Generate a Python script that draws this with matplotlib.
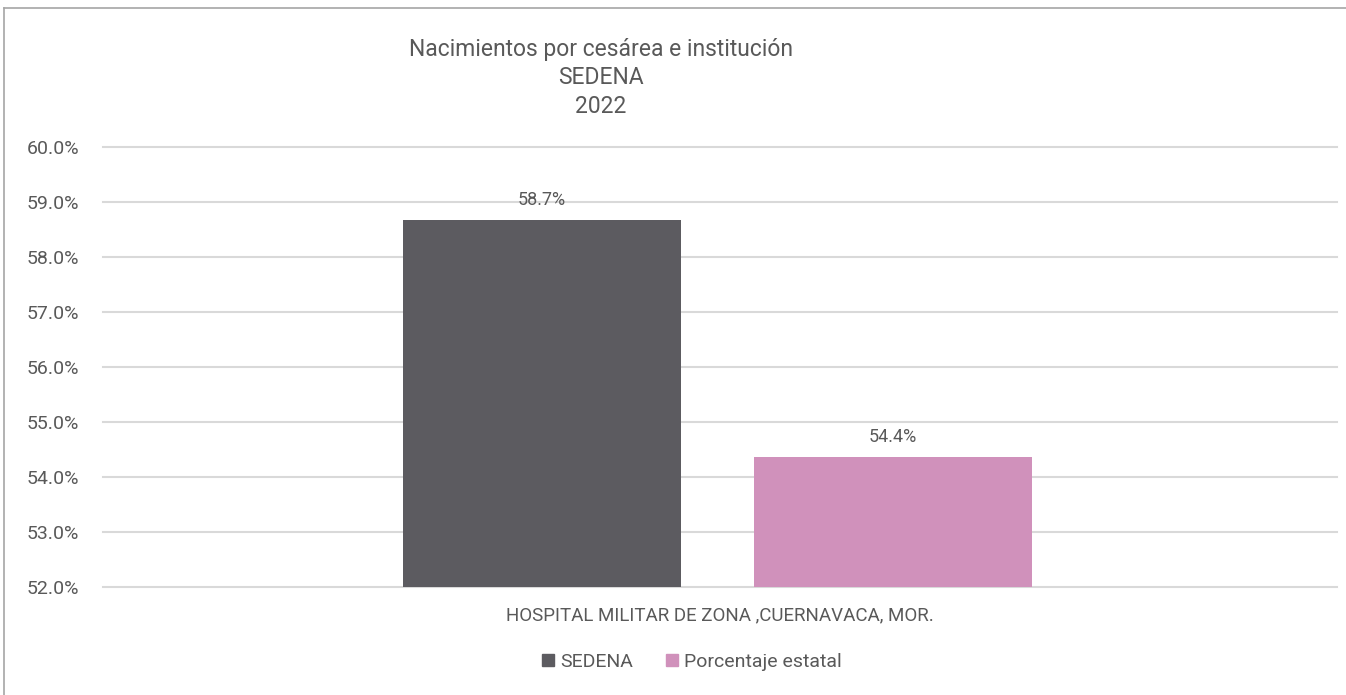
import matplotlib.pyplot as plt
from matplotlib.lines import Line2D
from matplotlib.ticker import FuncFormatter

plt.rcParams['font.family'] = ['Roboto', 'DejaVu Sans']

# Datos
categoria = "HOSPITAL MILITAR DE ZONA ,CUERNAVACA, MOR."
series = ["SEDENA", "Porcentaje estatal"]
valores = [58.67, 54.37]
colores = ["#5c5b60", "#d091bb"]

gris = "#595959"

W, H = 1346, 695
fig = plt.figure(figsize=(W / 100, H / 100), dpi=100)
ax = fig.add_axes([103 / W, 1 - 587 / H, (1337 - 103) / W, (587 - 147) / H])

posiciones = [-0.1442, 0.1402]
ancho = 0.2253
barras = ax.bar(posiciones, [v - 52 for v in valores], bottom=52, width=ancho,
                color=colores, zorder=3)
for x, v in zip(posiciones, valores):
    ax.text(x, v + 0.2, f"{v:.1f}%", ha='center', va='bottom', fontsize=13, color=gris)

ax.set_xlim(-0.5, 0.5)
ax.set_ylim(52, 60)
ax.set_yticks(range(52, 61))
ax.yaxis.set_major_formatter(FuncFormatter(lambda y, _: f"{y:.1f}%"))
ax.grid(axis='y', color='#d9d9d9', linewidth=1.5, zorder=0)
for g in ax.get_ygridlines():
    g.set_clip_on(False)
ax.set_xticks([0])
ax.set_xticklabels([categoria])
ax.tick_params(axis='x', length=0, pad=14, labelsize=13.5, labelcolor=gris)
ax.tick_params(axis='y', length=0, pad=17, labelsize=14, labelcolor=gris)
for s in ax.spines.values():
    s.set_visible(False)

# Titulo
fig.text(601 / W, 1 - 78 / H, "Nacimientos por cesárea e institución\nSEDENA\n2022",
         ha='center', va='center', fontsize=16.5, color=gris, linespacing=1.3)

# Leyenda
handles = [Line2D([], [], marker='s', linestyle='none', markersize=9, color=c) for c in colores]
fig.legend(handles, series, loc='center', bbox_to_anchor=(689 / W, 1 - 662 / H),
           ncol=2, frameon=False, fontsize=14, labelcolor=gris, handletextpad=0.0,
           handlelength=1.2, columnspacing=1.4)

# Borde
fig.add_artist(Line2D([4 / W, 4 / W], [0, 1 - 8 / H], color='#a6a6a6', linewidth=1.2))
fig.add_artist(Line2D([4 / W, 1], [1 - 8 / H, 1 - 8 / H], color='#a6a6a6', linewidth=1.2))

fig.savefig("out.png", dpi=100)
